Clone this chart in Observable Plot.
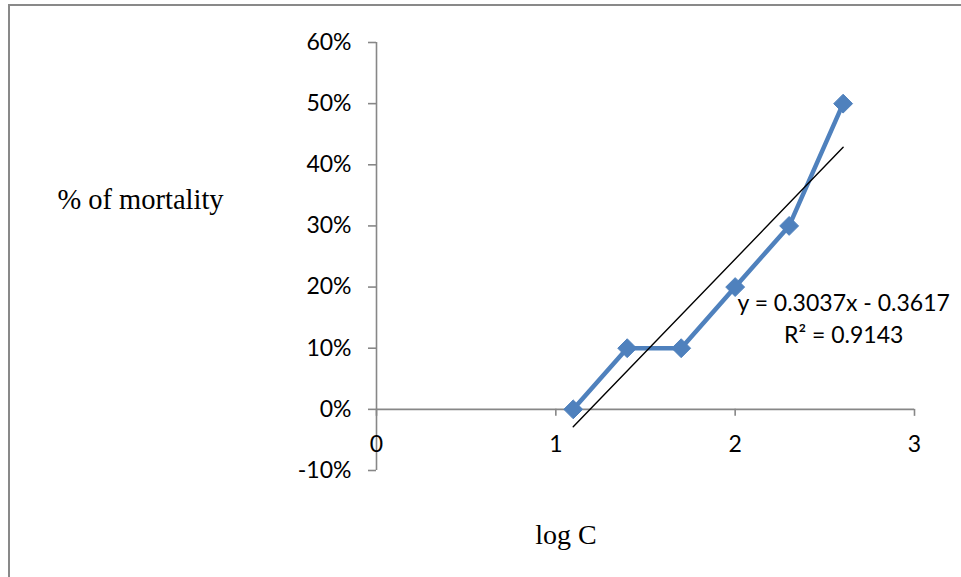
<!DOCTYPE html>
<html>
<head>
<meta charset="utf-8">
<script src="https://cdn.jsdelivr.net/npm/d3@7"></script>
<script src="https://cdn.jsdelivr.net/npm/@observablehq/plot@0.6"></script>
<style>
  html, body { margin: 0; padding: 0; background: #fff; overflow: hidden; }
  #wrap { position: relative; width: 961px; height: 577px; }
  #frame { position: absolute; left: 8px; top: 4px; width: 2000px; height: 2000px;
           border: 2px solid #898989; pointer-events: none; }
</style>
</head>
<body>
<div id="wrap"><div id="frame"></div></div>
<script>
// log10 of concentrations 12.5, 25, 50, 100, 200, 400
const logC = [1.097, 1.398, 1.699, 2.000, 2.301, 2.602];
const mortality = [0.00, 0.10, 0.10, 0.20, 0.30, 0.50];
const xTicks = [0, 1, 2, 3];
const yTicks = [-0.1, 0, 0.1, 0.2, 0.3, 0.4, 0.5, 0.6];
const yLabel = "% of mortality";
const xLabel = "log C";
const eqText = "y = 0.3037x - 0.3617";
const r2Text = "R² = 0.9143";

const data = logC.map((x, i) => ({x, y: mortality[i]}));
const axisColor = "#878787";
const blue = "#4F81BD";
const tickFont = "Lato, 'Open Sans', sans-serif";

const chart = Plot.plot({
  width: 961,
  height: 577,
  marginLeft: 376,
  marginRight: 47,
  marginTop: 42,
  marginBottom: 107,
  x: {domain: [0, 3], axis: null},
  y: {domain: [-0.1, 0.6], axis: null},
  style: {background: "transparent", fontFamily: tickFont},
  marks: [
    // x axis line at y=0
    Plot.ruleY([0], {x1: 0, x2: 3, stroke: axisColor, strokeWidth: 1.6}),
    // y axis line at x=0
    Plot.ruleX([0], {y1: -0.1, y2: 0.6, stroke: axisColor, strokeWidth: 1.6}),
    // x tick marks (downward)
    Plot.ruleX(xTicks, {x: d => d, y1: 0, y2: 0, insetBottom: -7, stroke: axisColor, strokeWidth: 1.6}),
    // y tick marks (leftward)
    Plot.ruleY(yTicks, {y: d => d, x1: 0, x2: 0, insetLeft: -8, stroke: axisColor, strokeWidth: 1.6}),
    // x tick labels
    Plot.text(xTicks, {x: d => d, y: 0, dy: 35, text: d => String(d), fontSize: 23, fill: "#000"}),
    // y tick labels
    Plot.text(yTicks, {x: 0, y: d => d, dx: -25, textAnchor: "end", text: d => `${Math.round(d * 100)}%`, fontSize: 23, fill: "#000"}),
    // data line
    Plot.line(data, {x: "x", y: "y", stroke: blue, strokeWidth: 4.5}),
    Plot.dot(data, {x: "x", y: "y", symbol: "diamond2", r: 8.5, fill: blue, stroke: blue, strokeWidth: 1}),
    // linear trendline
    Plot.linearRegressionY(data, {x: "x", y: "y", stroke: "#000", strokeWidth: 1.4, ci: 0}),
    // equation annotation
    Plot.text([eqText], {x: 2.605, y: 0.173, text: d => d, fontSize: 23, fill: "#000"}),
    Plot.text([r2Text], {x: 2.605, y: 0.121, text: d => d, fontSize: 23, fill: "#000"}),
    // axis titles
    Plot.text([yLabel], {frameAnchor: "left", textAnchor: "middle", y: 0.342, dx: -236, text: d => d, fontSize: 28.5,
      fontFamily: "'Liberation Serif', 'Times New Roman', serif", fill: "#000"}),
    Plot.text([xLabel], {frameAnchor: "bottom", textAnchor: "middle", x: 1.057, dy: 73, text: d => d, fontSize: 28,
      fontFamily: "'Liberation Serif', 'Times New Roman', serif", fill: "#000"})
  ]
});
chart.style.position = "absolute";
chart.style.left = "0px";
chart.style.top = "0px";
document.getElementById("wrap").appendChild(chart);
</script>
</body>
</html>
